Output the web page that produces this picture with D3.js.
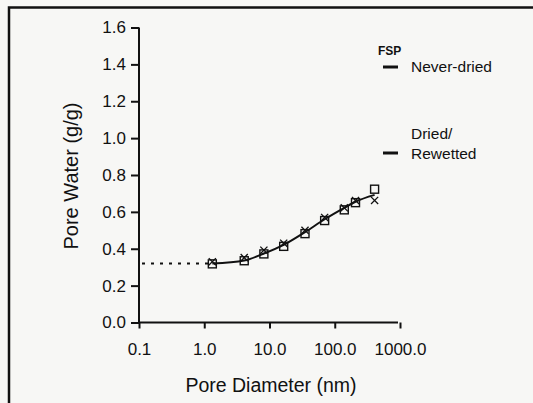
<!DOCTYPE html>
<html>
<head>
<meta charset="utf-8">
<script src="https://cdn.jsdelivr.net/npm/d3@7"></script>
<style>
  body { margin: 0; background: #f7f7f5; }
  svg { display: block; font-family: "Liberation Sans", Arial, sans-serif; }
</style>
</head>
<body>
<svg id="chart" width="533" height="403"></svg>
<script>
// pore diameters (nm) of the measured points
const diameters = [1.33, 4.1, 8.2, 16.5, 35, 70, 140, 208, 408];
// dried / rewetted (squares)
const driedVals = [0.318, 0.335, 0.372, 0.413, 0.482, 0.553, 0.611, 0.650, 0.723];
// never-dried (crosses)
const neverVals = [0.330, 0.352, 0.392, 0.430, 0.500, 0.570, 0.622, 0.662, 0.662];
// fitted curve through the points
const fitVals = [0.320, 0.336, 0.374, 0.421, 0.490, 0.560, 0.622, 0.655, 0.692];
// extrapolated part down to the y axis
const extrapX = [0.1, 1.33];
const extrapY = [0.320, 0.320];

const xTicks = [0.1, 1, 10, 100, 1000];
const yTicks = [0, 0.2, 0.4, 0.6, 0.8, 1.0, 1.2, 1.4, 1.6];

const svg = d3.select("#chart");

// scanned-figure frame
svg.append("path")
   .attr("d", "M9,403 V7.5 H533")
   .attr("fill", "none").attr("stroke", "#111").attr("stroke-width", 2.5);

const xScale = d3.scaleLog().domain([0.1, 1000]).range([139, 400]);
const yScale = d3.scaleLinear().domain([0, 1.6]).range([322.5, 27.5]);

// y axis
const yAxis = d3.axisLeft(yScale)
                .tickValues(yTicks)
                .tickSize(8)
                .tickPadding(5)
                .tickFormat(d3.format(".1f"));
svg.append("g")
   .attr("transform", "translate(139,0)")
   .call(yAxis)
   .call(g => g.select(".domain").attr("d", "M0," + yScale(1.6) + "V" + yScale(0)))
   .call(g => g.selectAll("line, .domain").attr("stroke", "#111").attr("stroke-width", 2))
   .call(g => g.selectAll(".tick text").attr("font-size", 17).attr("fill", "#111"));

// x axis
const xAxis = d3.axisBottom(xScale)
                .tickValues(xTicks)
                .tickSize(6)
                .tickPadding(14)
                .tickFormat(d3.format(".1f"));
svg.append("g")
   .attr("transform", "translate(0," + yScale(0) + ")")
   .call(xAxis)
   .call(g => g.select(".domain").attr("d", "M139,0H398"))
   .call(g => g.selectAll("line, .domain").attr("stroke", "#111").attr("stroke-width", 2))
   .call(g => g.selectAll(".tick text").attr("font-size", 17).attr("fill", "#111"));

// axis titles
svg.append("text")
   .attr("transform", "translate(78,176) rotate(-90)")
   .attr("text-anchor", "middle")
   .attr("font-size", 20).attr("fill", "#111")
   .text("Pore Water (g/g)");

svg.append("text")
   .attr("x", 271).attr("y", 392)
   .attr("text-anchor", "middle")
   .attr("font-size", 19.5).attr("fill", "#111")
   .text("Pore Diameter (nm)");

// dashed extrapolation
const extrap = extrapX.map((d, i) => ({x: d, y: extrapY[i]}));
svg.append("path")
   .datum(extrap)
   .attr("fill", "none").attr("stroke", "#111").attr("stroke-width", 2)
   .attr("stroke-dasharray", "3,6")
   .attr("d", d3.line().x(d => xScale(d.x) + 3).y(d => yScale(d.y)));

// fitted curve
const fit = diameters.map((d, i) => ({x: d, y: fitVals[i]}));
svg.append("path")
   .datum(fit)
   .attr("fill", "none").attr("stroke", "#111").attr("stroke-width", 2)
   .attr("d", d3.line().curve(d3.curveMonotoneX).x(d => xScale(d.x)).y(d => yScale(d.y)));

// crosses (never-dried)
const crossGen = d3.symbol().type(d3.symbolX).size(35);
svg.append("g").selectAll("path")
   .data(diameters.map((d, i) => ({x: d, y: neverVals[i]})))
   .enter().append("path")
   .attr("d", crossGen)
   .attr("transform", d => "translate(" + xScale(d.x) + "," + yScale(d.y) + ")")
   .attr("fill", "none").attr("stroke", "#111").attr("stroke-width", 1.3);

// squares (dried/rewetted)
svg.append("g").selectAll("rect")
   .data(diameters.map((d, i) => ({x: d, y: driedVals[i]})))
   .enter().append("rect")
   .attr("x", d => xScale(d.x) - 4)
   .attr("y", d => yScale(d.y) - 4)
   .attr("width", 8).attr("height", 8)
   .attr("fill", "none").attr("stroke", "#111").attr("stroke-width", 1.4);

// legend
const legend = svg.append("g");
legend.append("text")
      .attr("x", 378).attr("y", 55)
      .attr("font-size", 12).attr("font-weight", "bold").attr("fill", "#111")
      .text("FSP");

const legendItems = [
  {lines: ["Never-dried"], y: 72, mark: 67},
  {lines: ["Dried/", "Rewetted"], y: 139, mark: 153}
];
legendItems.forEach(item => {
  legend.append("line")
        .attr("x1", 383).attr("x2", 398)
        .attr("y1", item.mark).attr("y2", item.mark)
        .attr("stroke", "#111").attr("stroke-width", 3);
  item.lines.forEach((t, i) => {
    legend.append("text")
          .attr("x", 411).attr("y", item.y + i * 20)
          .attr("font-size", 15.5).attr("fill", "#111")
          .text(t);
  });
});
</script>
</body>
</html>
